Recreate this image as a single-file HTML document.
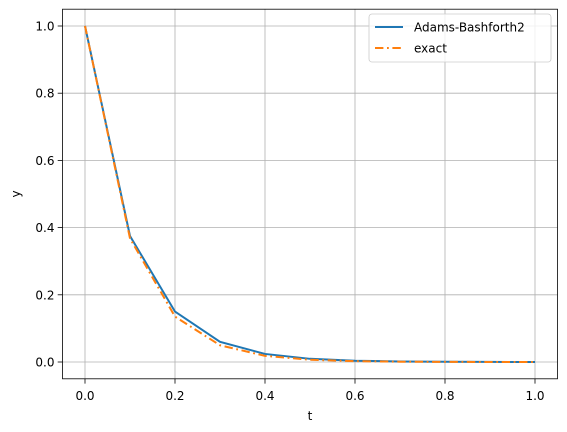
<!DOCTYPE html>
<html><head><meta charset="utf-8"><style>
body{margin:0;background:#fff;}
svg{display:block;font-family:"DejaVu Sans","Liberation Sans",sans-serif;}
</style></head><body>
<svg id="chart" width="567" height="432"></svg>
<script>
const tValues=[0,0.1,0.2,0.3,0.4,0.5,0.6,0.7,0.8,0.9,1.0];
const abValues=[1.0,0.375,0.15,0.06,0.024,0.0095,0.0038,0.0015,0.0006,0.00024,0.0001];
const exactValues=[1.0,0.368,0.135,0.0498,0.0183,0.0067,0.0025,0.0009,0.0003,0.0001,0.00005];
const xTicks=[0,0.2,0.4,0.6,0.8,1.0];
const xTickLabels=["0.0","0.2","0.4","0.6","0.8","1.0"];
const yTicks=[0,0.2,0.4,0.6,0.8,1.0];
const yTickLabels=["0.0","0.2","0.4","0.6","0.8","1.0"];
const L=62.5,R=557.5,T=9.2,B=378.8;
const xS=v=>L+(v+0.05)/1.1*(R-L);
const yS=v=>B-(v+0.05)/1.1*(B-T);
const svg=document.getElementById('chart');
const NS='http://www.w3.org/2000/svg';
function mk(tag,attrs,parent){const e=document.createElementNS(NS,tag);for(const k in attrs)e.setAttribute(k,attrs[k]);(parent||svg).appendChild(e);return e;}
const grid=mk('g',{});


xTicks.forEach((v,i)=>{
  const x=xS(v);
  mk('line',{x1:x,x2:x,y1:T,y2:B,stroke:'#b0b0b0','stroke-width':0.8},grid);
  mk('line',{x1:x,x2:x,y1:B,y2:B+4.8,stroke:'#000','stroke-width':0.8});
  const t=mk('text',{x:x,y:B+21,'text-anchor':'middle','font-size':12,fill:'#000'});
  t.textContent=xTickLabels[i];
  
  
});
yTicks.forEach((v,i)=>{
  const y=yS(v);
  mk('line',{x1:L,x2:R,y1:y,y2:y,stroke:'#b0b0b0','stroke-width':0.8},grid);
  mk('line',{x1:L-4.8,x2:L,y1:y,y2:y,stroke:'#000','stroke-width':0.8});
  const t=mk('text',{x:L-8,y:y+4.5,'text-anchor':'end','font-size':12,fill:'#000'});
  t.textContent=yTickLabels[i];
  
  
});
function pts(vals){return tValues.map((t,i)=>xS(t)+','+yS(vals[i])).join(' ');}
const ab=mk('polyline',{points:pts(abValues),fill:'none',stroke:'#1f77b4','stroke-width':2});


const ex=mk('polyline',{points:pts(exactValues),fill:'none',stroke:'#ff7f0e','stroke-width':2,'stroke-dasharray':'8.4,3.6,1.8,3.6'});


const frame=mk('rect',{x:L,y:T,width:R-L,height:B-T,fill:'none',stroke:'#000','stroke-width':0.8});


const xl=mk('text',{x:(L+R)/2,y:420,'text-anchor':'middle','font-size':12});
xl.textContent='t';


const yl=mk('text',{x:0,y:0,'text-anchor':'middle','font-size':12,transform:'translate(20,'+((T+B)/2)+') rotate(-90)'});
yl.textContent='y';


const lg=mk('g',{});


mk('rect',{x:369,y:14,width:182,height:48,rx:3,fill:'#fff','fill-opacity':0.8,stroke:'#ccc','stroke-width':0.8},lg);
mk('line',{x1:375,x2:403,y1:27,y2:27,stroke:'#1f77b4','stroke-width':2},lg);
const l1=mk('text',{x:414,y:31.5,'font-size':12},lg);l1.textContent='Adams-Bashforth2';


mk('line',{x1:375,x2:403,y1:48,y2:48,stroke:'#ff7f0e','stroke-width':2,'stroke-dasharray':'8.4,3.6,1.8,3.6'},lg);
const l2=mk('text',{x:414,y:52.5,'font-size':12},lg);l2.textContent='exact';


</script>
</body></html>
